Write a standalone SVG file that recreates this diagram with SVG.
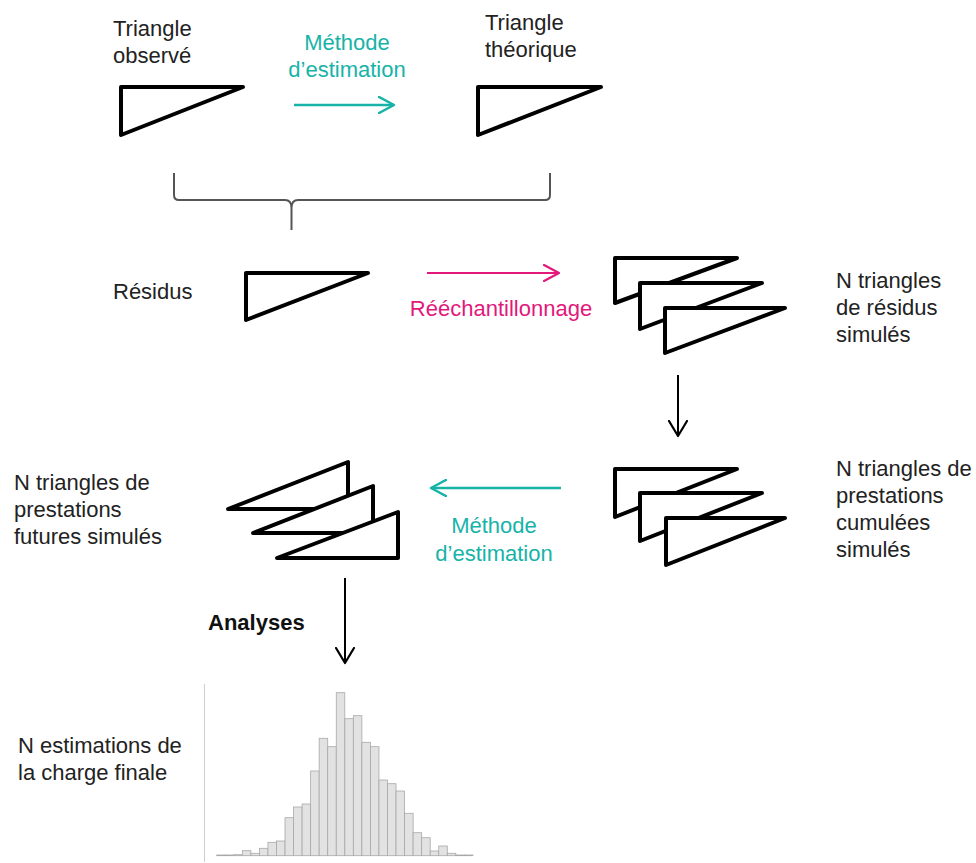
<svg xmlns="http://www.w3.org/2000/svg" width="976" height="863" viewBox="0 0 976 863">
<style>
text{font-family:"Liberation Sans",Arial,sans-serif;font-size:22px;fill:#222}
.teal{fill:#17b3a8}
.pink{fill:#e2187b}
.bold{font-weight:bold;fill:#111}
.tri{fill:#fff;stroke:#000;stroke-width:4;stroke-linejoin:round}
.bar{fill:#e2e2e2;stroke:#a8a8a8;stroke-width:0.8}
</style>
<defs>
<marker id="aTeal" markerUnits="userSpaceOnUse" viewBox="0 0 18 18" markerWidth="18" markerHeight="18" refX="16" refY="9" orient="auto"><path d="M1,1 L16,9 L1,17" fill="none" stroke="#17b3a8" stroke-width="2.5" stroke-linecap="round" stroke-linejoin="round"/></marker>
<marker id="aPink" markerUnits="userSpaceOnUse" viewBox="0 0 18 18" markerWidth="18" markerHeight="18" refX="16" refY="9" orient="auto"><path d="M1,1 L16,9 L1,17" fill="none" stroke="#e2187b" stroke-width="2.2" stroke-linecap="round" stroke-linejoin="round"/></marker>
<marker id="aBlack" markerUnits="userSpaceOnUse" viewBox="0 0 18 20" markerWidth="18" markerHeight="20" refX="16" refY="10" orient="auto"><path d="M1,1 L16,10 L1,19" fill="none" stroke="#000" stroke-width="2.2" stroke-linecap="round" stroke-linejoin="round"/></marker>
</defs>
<rect width="976" height="863" fill="#fff"/>

<g id="observe">
<polygon class="tri" points="121,87 243,87 121,135"/>
<text x="113" y="36">Triangle</text>
<text x="113" y="63">observé</text>
</g>
<g id="theorique">
<polygon class="tri" points="478,87 601,87 478,135"/>
<text x="485" y="30">Triangle</text>
<text x="485" y="57">théorique</text>
</g>
<g id="residus">
<polygon class="tri" points="246,273 368,273 246,320"/>
<text x="113" y="299">Résidus</text>
</g>
<g id="residus-simules">
<polygon class="tri" points="615,258 737,258 615,303"/>
<polygon class="tri" points="640,283 762,283 640,329"/>
<polygon class="tri" points="665,308 785,308 665,353"/>
<text x="836" y="288">N triangles</text>
<text x="836" y="315">de résidus</text>
<text x="836" y="342">simulés</text>
</g>
<g id="cumulees">
<polygon class="tri" points="615,469 737,469 615,517"/>
<polygon class="tri" points="640,493 762,493 640,541"/>
<polygon class="tri" points="666,518 785,518 666,565"/>
<text x="836" y="476">N triangles de</text>
<text x="836" y="503">prestations</text>
<text x="836" y="530">cumulées</text>
<text x="836" y="557">simulés</text>
</g>
<g id="futures">
<polygon class="tri" points="348,462 348,509 228,509"/>
<polygon class="tri" points="373,486 373,533 253,533"/>
<polygon class="tri" points="398,512 398,558 277,558"/>
<text x="14" y="490">N triangles de</text>
<text x="14" y="517">prestations</text>
<text x="14" y="544">futures simulés</text>
</g>
<g id="histogramme">
<line x1="204.5" y1="684" x2="204.5" y2="862" stroke="#cfcfcf" stroke-width="1"/>
<g>
<rect class="bar" x="216.7" y="855" width="8.54" height="0.7"/>
<rect class="bar" x="225.24" y="855" width="8.54" height="0.7"/>
<rect class="bar" x="233.78" y="854.7" width="8.54" height="1"/>
<rect class="bar" x="242.32" y="850.7" width="8.54" height="5"/>
<rect class="bar" x="250.86" y="853.3" width="8.54" height="2.4"/>
<rect class="bar" x="259.4" y="848.3" width="8.54" height="7.4"/>
<rect class="bar" x="267.94" y="842.3" width="8.54" height="13.4"/>
<rect class="bar" x="276.48" y="841" width="8.54" height="14.7"/>
<rect class="bar" x="285.02" y="817.7" width="8.54" height="38"/>
<rect class="bar" x="293.56" y="807" width="8.54" height="48.7"/>
<rect class="bar" x="302.1" y="804" width="8.54" height="51.7"/>
<rect class="bar" x="310.64" y="771" width="8.54" height="84.7"/>
<rect class="bar" x="319.18" y="738.3" width="8.54" height="117.4"/>
<rect class="bar" x="327.72" y="746.7" width="8.54" height="109"/>
<rect class="bar" x="336.26" y="692.7" width="8.54" height="163"/>
<rect class="bar" x="344.8" y="718.7" width="8.54" height="137"/>
<rect class="bar" x="353.34" y="715.7" width="8.54" height="140"/>
<rect class="bar" x="361.88" y="742.3" width="8.54" height="113.4"/>
<rect class="bar" x="370.42" y="746.7" width="8.54" height="109"/>
<rect class="bar" x="378.96" y="780" width="8.54" height="75.7"/>
<rect class="bar" x="387.5" y="783.7" width="8.54" height="72"/>
<rect class="bar" x="396.04" y="791" width="8.54" height="64.7"/>
<rect class="bar" x="404.58" y="813.3" width="8.54" height="42.4"/>
<rect class="bar" x="413.12" y="832.7" width="8.54" height="23"/>
<rect class="bar" x="421.66" y="837.7" width="8.54" height="18"/>
<rect class="bar" x="430.2" y="851" width="8.54" height="4.7"/>
<rect class="bar" x="438.74" y="846" width="8.54" height="9.7"/>
<rect class="bar" x="447.28" y="853.3" width="8.54" height="2.4"/>
<rect class="bar" x="455.82" y="855" width="8.54" height="0.7"/>
<rect class="bar" x="464.36" y="855" width="8.54" height="0.7"/>
</g>
<text x="18" y="753">N estimations de</text>
<text x="18" y="780">la charge finale</text>
</g>

<g id="connecteurs" fill="none">
<path d="M174,173 V195 Q174,200 179,200 H285 Q291.5,200 291.5,208 V230 M291.5,208 Q291.5,200 298,200 H545 Q550,200 550,195 V173" stroke="#555" stroke-width="2"/>
<line x1="294" y1="105" x2="394" y2="105" stroke="#17b3a8" stroke-width="2.5" marker-end="url(#aTeal)"/>
<text class="teal" x="347" y="50" text-anchor="middle">Méthode</text>
<text class="teal" x="347" y="77" text-anchor="middle">d’estimation</text>
<line x1="427" y1="273" x2="559" y2="273" stroke="#e2187b" stroke-width="2.2" marker-end="url(#aPink)"/>
<text class="pink" x="501" y="316" text-anchor="middle">Rééchantillonnage</text>
<line x1="678" y1="375" x2="678" y2="436" stroke="#000" stroke-width="2" marker-end="url(#aBlack)"/>
<line x1="561" y1="488" x2="431" y2="488" stroke="#17b3a8" stroke-width="2.5" marker-end="url(#aTeal)"/>
<text class="teal" x="494" y="533" text-anchor="middle">Méthode</text>
<text class="teal" x="494" y="561" text-anchor="middle">d’estimation</text>
<line x1="345" y1="578" x2="345" y2="663" stroke="#000" stroke-width="2" marker-end="url(#aBlack)"/>
<text class="bold" x="208" y="630">Analyses</text>
</g>
</svg>
